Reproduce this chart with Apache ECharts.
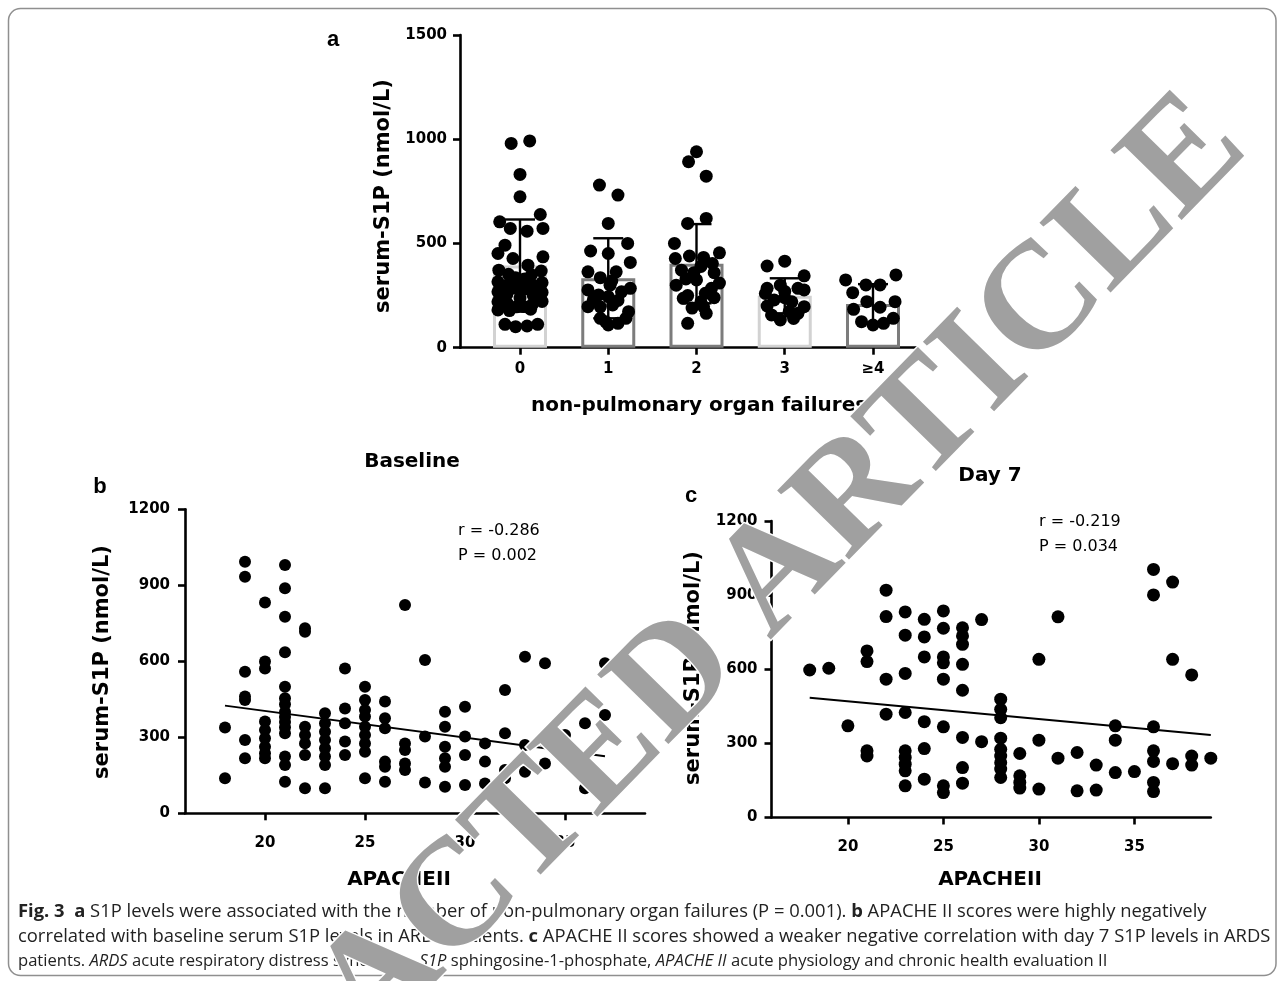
<!DOCTYPE html>
<html><head><meta charset="utf-8">
<script src="https://cdn.jsdelivr.net/npm/echarts@6/dist/echarts.min.js"></script>
<style>html,body{margin:0;padding:0;background:#fff}#c{width:1284px;height:981px}</style>
</head><body><div id="c"></div><script>
// ---------- Panel a data ----------
const categoriesA = ['0', '1', '2', '3', '≥4'];
const meansA = [394, 333, 403, 249, 210];
const sdA = [221, 192, 190, 84, 95];
const offsetsA0 = [-0.10, 0.11, 0, 0, 0.23, -0.23, -0.11, 0.08, 0.26, -0.17, -0.25, -0.08, 0.26, 0.09,
  -0.24, 0.24, -0.13, 0.13, -0.05, 0.05, -0.25, 0.25, -0.15, 0.15, -0.05, 0.05, -0.25, 0.25, -0.15, 0.15,
  -0.25, 0.25, -0.14, 0.14, -0.04, 0.04, -0.25, -0.12, 0.12, -0.17, -0.05, 0.08, 0.2, 0.0];
const valuesA0 = [980, 992, 831, 724, 639, 604, 572, 559, 572, 492, 452, 428, 436, 396,
  372, 368, 352, 350, 335, 330, 316, 312, 300, 298, 285, 282, 268, 265, 255, 252,
  220, 222, 210, 208, 196, 198, 181, 178, 185, 112, 101, 104, 112, 238];
const offsetsA1 = [-0.10, 0.11, 0, 0.22, -0.20, 0, 0.25, -0.23, 0.09, -0.09, 0.04, -0.23, -0.11, 0.15,
  0.25, 0.02, -0.17, 0.11, 0.0, -0.23, -0.09, 0.23, 0.05, -0.09, 0, 0.11, -0.03, 0.2];
const valuesA1 = [780, 732, 596, 500, 464, 452, 409, 364, 364, 336, 320, 277, 253, 268,
  285, 300, 229, 227, 245, 197, 196, 173, 205, 141, 109, 117, 125, 141];
const offsetsA2 = [0.0, -0.09, 0.11, 0.11, -0.10, -0.25, -0.24, -0.08, 0.08, 0.26, 0.18, -0.17, 0.05, -0.03,
  0.2, -0.23, 0.17, 0.0, -0.12, 0.26, 0.1, -0.1, -0.15, 0.2, 0.05, 0.08, -0.05, 0.11, -0.1];
const valuesA2 = [940, 892, 823, 620, 596, 500, 428, 440, 433, 455, 404, 372, 390, 360,
  360, 300, 285, 325, 330, 310, 261, 250, 237, 240, 220, 197, 190, 165, 117];
const offsetsA3 = [-0.20, 0.0, 0.22, -0.2, -0.05, 0.15, 0.22, 0.0, -0.12, 0.08, 0.22, -0.22, -0.15, -0.05,
  0.05, 0.15, -0.2, 0.1, 0.0];
const valuesA3 = [392, 415, 345, 285, 300, 285, 277, 270, 229, 220, 197, 260, 157, 133,
  173, 165, 200, 140, 240];
const offsetsA4 = [-0.31, 0.26, -0.23, -0.08, 0.08, 0.25, -0.07, -0.22, 0.08, 0.23, -0.13, 0, 0.12];
const valuesA4 = [325, 349, 264, 301, 301, 221, 221, 184, 194, 141, 125, 109, 117];

// ---------- Panel b data (baseline) ----------
const apacheB = [18, 19, 20, 21, 22, 23, 24, 25, 26, 27, 28, 29, 30, 31, 32, 33, 34, 35, 36, 37];
const s1pB = [
  [339, 138],
  [993, 934, 559, 461, 447, 289, 217],
  [832, 599, 572, 362, 329, 296, 263, 237, 217],
  [980, 888, 776, 636, 500, 454, 430, 400, 380, 360, 340, 316, 224, 191, 125],
  [730, 717, 342, 309, 276, 230, 99],
  [395, 355, 322, 289, 257, 224, 191, 99],
  [572, 414, 355, 283, 230],
  [500, 447, 408, 382, 342, 309, 276, 243, 138],
  [441, 375, 336, 204, 184, 125],
  [822, 276, 250, 197, 171],
  [605, 303, 122],
  [401, 342, 263, 217, 184, 105],
  [421, 303, 230, 112],
  [276, 204, 118],
  [487, 316, 171, 138],
  [618, 270, 164],
  [592, 283, 197],
  [309],
  [355, 138, 99],
  [592, 388]
];
const fitXB = [18, 37];
const fitYB = [425, 225];

// ---------- Panel c data (day 7) ----------
const apacheC = [18, 19, 20, 21, 22, 23, 24, 25, 26, 27, 28, 29, 30, 31, 32, 33, 34, 35, 36, 37, 38, 39];
const s1pC = [
  [597],
  [604],
  [371],
  [674, 631, 270, 249],
  [920, 813, 560, 418],
  [832, 738, 583, 425, 270, 243, 216, 189, 128],
  [802, 731, 650, 388, 279, 155],
  [836, 766, 650, 626, 560, 367, 128, 101],
  [768, 735, 701, 620, 515, 324, 202, 139],
  [801, 307],
  [479, 438, 404, 321, 276, 249, 222, 196, 162],
  [259, 169, 142, 119],
  [640, 313, 115],
  [812, 240],
  [263, 108],
  [212, 111],
  [371, 313, 182],
  [186],
  [1004, 901, 367, 270, 227, 142, 105],
  [953, 640, 218],
  [577, 249, 212],
  [240]
];
const fitXC = [18, 39];
const fitYC = [485, 334];

const xTicksBC = [20, 25, 30, 35];

// ---------- build ----------
const offsetsA = [offsetsA0, offsetsA1, offsetsA2, offsetsA3, offsetsA4];
const valuesA = [valuesA0, valuesA1, valuesA2, valuesA3, valuesA4];
const dotsA = [];
valuesA.forEach((vals, i) => vals.forEach((v, k) => dotsA.push([i + offsetsA[i][k], v])));
const barEdge = ['#d2d2d2', '#7c7c7c', '#7c7c7c', '#d2d2d2', '#7c7c7c'];
const barsA = meansA.map((m, i) => ({ value: [i, m], itemStyle: { borderColor: barEdge[i] } }));
const errA = meansA.map((m, i) => [i, m - sdA[i], m + sdA[i]]);

function flatten(xs, ys) {
  const out = [];
  xs.forEach((x, i) => ys[i].forEach(y => out.push([x, y])));
  return out;
}
const dotsB = flatten(apacheB, s1pB);
const dotsC = flatten(apacheC, s1pC);

const AF = 'DejaVu Sans';
function axis(extra) {
  const base = {
    axisLine: { show: true, onZero: false, lineStyle: { color: '#000', width: 2.6 } },
    axisTick: { show: true, length: 7, lineStyle: { color: '#000', width: 2.6 } },
    splitLine: { show: false },
    axisLabel: { color: '#000', fontFamily: AF, fontWeight: 'bold', fontSize: 15, formatter: v => String(v) }
  };
  const o = Object.assign({}, base, extra);
  o.axisTick = Object.assign({}, base.axisTick, extra.axisTick || {});
  o.axisLabel = Object.assign({}, base.axisLabel, extra.axisLabel || {});
  return o;
}

const chart = echarts.init(document.getElementById('c'), null, { renderer: 'canvas', width: 1284, height: 981 });

const T = (text, x, y, font, opts) => Object.assign({
  type: 'text', x, y, z: 50,
  style: { text, font, fill: '#000', align: (opts && opts.align) || 'center', verticalAlign: 'middle' }
}, opts && opts.rotation !== undefined ? { rotation: opts.rotation } : {});

function capLine(text, y, size) {
  return {
    type: 'text', x: 18, y, z: 40,
    style: {
      text, font: size + 'px "Open Sans"', fill: '#222', align: 'left', verticalAlign: 'middle',
      rich: {
        b: { fontFamily: 'Open Sans', fontSize: size, fontWeight: 'bold', fill: '#222' },
        i: { fontFamily: 'Open Sans', fontSize: size, fontStyle: 'italic', fill: '#222' }
      }
    }
  };
}

const TF = 'bold 20px "DejaVu Sans"';

chart.setOption({
  backgroundColor: '#fff',
  animation: false,
  grid: [
    { left: 460, top: 35, width: 458, height: 312.7, outerBoundsMode: 'none' },
    { left: 185, top: 509.3, width: 460, height: 304, outerBoundsMode: 'none' },
    { left: 771.5, top: 521, width: 439.3, height: 296.5, outerBoundsMode: 'none' }
  ],
  xAxis: [
    axis({ gridIndex: 0, type: 'value', min: -0.68, max: 4.51,
      axisTick: { customValues: [0, 1, 2, 3, 4] },
      axisLabel: { customValues: [0, 1, 2, 3, 4], margin: 14, formatter: v => categoriesA[Math.round(v)] } }),
    axis({ gridIndex: 1, type: 'value', min: 16, max: 39,
      axisTick: { customValues: xTicksBC },
      axisLabel: { customValues: xTicksBC, margin: 22 } }),
    axis({ gridIndex: 2, type: 'value', min: 16, max: 39,
      axisTick: { customValues: xTicksBC },
      axisLabel: { customValues: xTicksBC, margin: 22 } })
  ],
  yAxis: [
    axis({ gridIndex: 0, type: 'value', min: 0, max: 1500, interval: 500, axisLabel: { margin: 13 } }),
    axis({ gridIndex: 1, type: 'value', min: 0, max: 1200, interval: 300, axisLabel: { margin: 15 } }),
    axis({ gridIndex: 2, type: 'value', min: 0, max: 1200, interval: 300, axisLabel: { margin: 14 } })
  ],
  series: [
    { type: 'bar', xAxisIndex: 0, yAxisIndex: 0, barWidth: 54, z: 1, data: barsA,
      itemStyle: { color: 'rgba(0,0,0,0)', borderWidth: 3 } },
    { type: 'scatter', xAxisIndex: 0, yAxisIndex: 0, symbolSize: 13, z: 3, data: dotsA,
      itemStyle: { color: '#000', opacity: 1 } },
    { type: 'custom', xAxisIndex: 0, yAxisIndex: 0, z: 4, data: errA,
      renderItem: (params, api) => {
        const x = api.value(0);
        const top = api.coord([x, api.value(2)]);
        const bot = api.coord([x, api.value(1)]);
        const hw = 15;
        const st = { stroke: '#000', lineWidth: 2.4 };
        return { type: 'group', children: [
          { type: 'line', shape: { x1: top[0], y1: top[1], x2: bot[0], y2: bot[1] }, style: st },
          { type: 'line', shape: { x1: top[0] - hw, y1: top[1], x2: top[0] + hw, y2: top[1] }, style: st },
          { type: 'line', shape: { x1: bot[0] - hw, y1: bot[1], x2: bot[0] + hw, y2: bot[1] }, style: st }
        ] };
      } },
    { type: 'scatter', xAxisIndex: 1, yAxisIndex: 1, symbolSize: 12, z: 3, data: dotsB,
      itemStyle: { color: '#000', opacity: 1 } },
    { type: 'line', xAxisIndex: 1, yAxisIndex: 1, z: 4, showSymbol: false, symbol: 'none',
      data: fitXB.map((x, i) => [x, fitYB[i]]), lineStyle: { color: '#000', width: 2 } },
    { type: 'scatter', xAxisIndex: 2, yAxisIndex: 2, symbolSize: 13, z: 3, data: dotsC,
      itemStyle: { color: '#000', opacity: 1 } },
    { type: 'line', xAxisIndex: 2, yAxisIndex: 2, z: 4, showSymbol: false, symbol: 'none',
      data: fitXC.map((x, i) => [x, fitYC[i]]), lineStyle: { color: '#000', width: 2 } }
  ],
  graphic: [
    { type: 'rect', z: 0, shape: { x: 8.5, y: 8.5, width: 1267.5, height: 967, r: 12 },
      style: { fill: 'none', stroke: '#8f8f8f', lineWidth: 1.5 } },
    T('a', 333, 40, 'bold 22px "Liberation Sans"'),
    T('b', 100, 487, 'bold 22px "Liberation Sans"'),
    T('c', 691, 496, 'bold 22px "Liberation Sans"'),
    T('serum-S1P (nmol/L)', 384, 196, 'bold 21px "DejaVu Sans"', { rotation: Math.PI / 2 }),
    T('non-pulmonary organ failures', 699, 406, TF),
    T('Baseline', 412, 462, TF),
    T('serum-S1P (nmol/L)', 103, 662, 'bold 21px "DejaVu Sans"', { rotation: Math.PI / 2 }),
    T('APACHEII', 399, 880, TF),
    T('r = -0.286', 458, 531, '16px "DejaVu Sans"', { align: 'left' }),
    T('P = 0.002', 458, 556, '16px "DejaVu Sans"', { align: 'left' }),
    T('Day 7', 990, 476, TF),
    T('serum-S1P (nmol/L)', 694, 668, 'bold 21px "DejaVu Sans"', { rotation: Math.PI / 2 }),
    T('APACHEII', 990, 880, TF),
    T('r = -0.219', 1039, 522, '16px "DejaVu Sans"', { align: 'left' }),
    T('P = 0.034', 1039, 547, '16px "DejaVu Sans"', { align: 'left' }),
    capLine('{b|Fig. 3}  {b|a} S1P levels were associated with the number of non-pulmonary organ failures (P = 0.001). {b|b} APACHE II scores were highly negatively', 912, 18.4),
    capLine('correlated with baseline serum S1P levels in ARDS patients. {b|c} APACHE II scores showed a weaker negative correlation with day 7 S1P levels in ARDS', 937, 18.4),
    capLine('patients. {i|ARDS} acute respiratory distress syndrome, {i|S1P} sphingosine-1-phosphate, {i|APACHE II} acute physiology and chronic health evaluation II', 961, 16.6),
    { type: 'text', x: 635, y: 722, z: 100, rotation: 0.796,
      style: { text: 'RETRACTED ARTICLE', font: 'bold 152px "Liberation Serif"', fill: '#a0a0a0',
        stroke: '#fff', lineWidth: 3, align: 'center', verticalAlign: 'middle' } }
  ]
});
</script></body></html>
